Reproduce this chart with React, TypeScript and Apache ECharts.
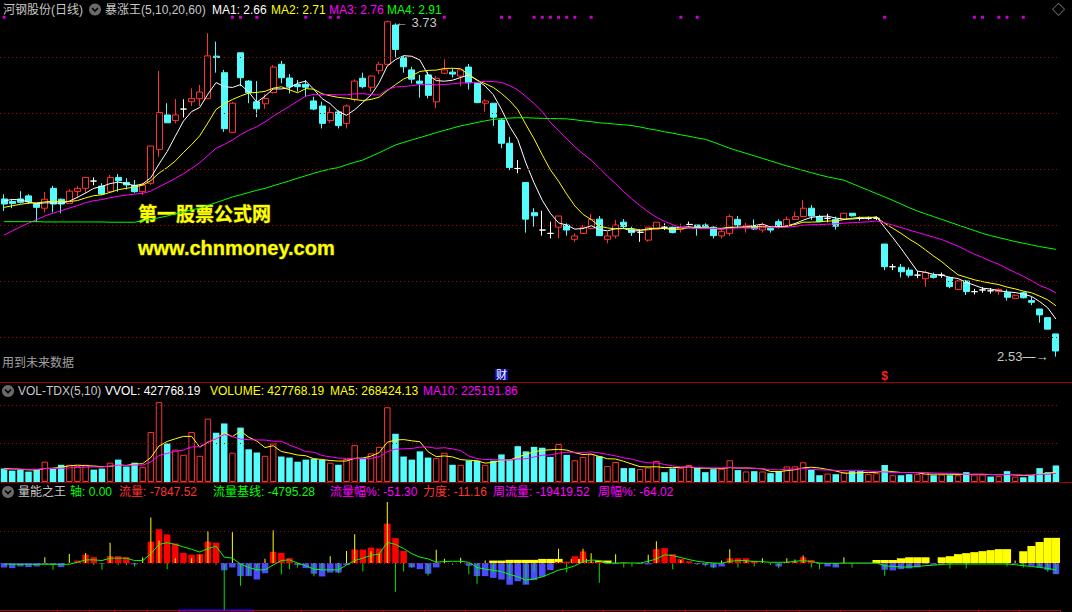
import React, { useEffect, useRef } from "react";
import * as echarts from "echarts";

const W = 1072;
const H = 612;

// [open, close, low, high]
const ohlc: number[][] = [
  [3.093, 3.075, 3.05, 3.11], [3.084, 3.077, 3.06, 3.093], [3.093, 3.081, 3.077, 3.121], [3.104, 3.083, 3.075, 3.11], [3.075, 3.063, 3.01, 3.078],
  [3.06, 3.092, 3.045, 3.118], [3.131, 3.075, 3.045, 3.14], [3.092, 3.075, 3.042, 3.095], [3.077, 3.121, 3.077, 3.128], [3.12, 3.131, 3.095, 3.139],
  [3.131, 3.17, 3.113, 3.17], [3.157, 3.157, 3.142, 3.17], [3.139, 3.111, 3.107, 3.149], [3.119, 3.17, 3.115, 3.179], [3.17, 3.158, 3.119, 3.182],
  [3.152, 3.143, 3.127, 3.167], [3.142, 3.119, 3.115, 3.161], [3.119, 3.143, 3.107, 3.151], [3.149, 3.282, 3.143, 3.282], [3.27, 3.402, 3.244, 3.55],
  [3.393, 3.365, 3.365, 3.435], [3.373, 3.393, 3.363, 3.45], [3.414, 3.414, 3.384, 3.449], [3.44, 3.452, 3.425, 3.488], [3.451, 3.475, 3.425, 3.5],
  [3.451, 3.604, 3.451, 3.685], [3.603, 3.598, 3.544, 3.655], [3.544, 3.344, 3.333, 3.554], [3.331, 3.435, 3.33, 3.44], [3.615, 3.526, 3.496, 3.615],
  [3.514, 3.473, 3.435, 3.518], [3.44, 3.415, 3.385, 3.514], [3.433, 3.452, 3.415, 3.467], [3.473, 3.564, 3.47, 3.571], [3.574, 3.526, 3.506, 3.586],
  [3.525, 3.494, 3.47, 3.539], [3.502, 3.494, 3.476, 3.518], [3.502, 3.492, 3.458, 3.518], [3.443, 3.414, 3.41, 3.458], [3.425, 3.363, 3.345, 3.44],
  [3.373, 3.402, 3.365, 3.42], [3.404, 3.355, 3.345, 3.41], [3.363, 3.425, 3.345, 3.43], [3.449, 3.514, 3.44, 3.52], [3.524, 3.494, 3.488, 3.544],
  [3.492, 3.532, 3.476, 3.536], [3.551, 3.574, 3.539, 3.583], [3.574, 3.726, 3.57, 3.73], [3.714, 3.627, 3.599, 3.72], [3.598, 3.565, 3.544, 3.604],
  [3.554, 3.521, 3.506, 3.565], [3.514, 3.506, 3.455, 3.536], [3.536, 3.463, 3.452, 3.548], [3.44, 3.524, 3.417, 3.532], [3.542, 3.554, 3.539, 3.592],
  [3.546, 3.539, 3.527, 3.559], [3.532, 3.554, 3.496, 3.555], [3.564, 3.508, 3.484, 3.575], [3.506, 3.437, 3.437, 3.506], [3.435, 3.443, 3.405, 3.449],
  [3.435, 3.385, 3.354, 3.435], [3.375, 3.292, 3.274, 3.381], [3.292, 3.205, 3.196, 3.315], [3.202, 3.202, 3.185, 3.232], [3.152, 3.021, 2.973, 3.152],
  [3.044, 3.033, 2.994, 3.06], [2.982, 2.982, 2.962, 3.051], [2.97, 2.97, 2.952, 3.012], [2.992, 3.032, 2.952, 3.032], [3.0, 2.982, 2.962, 3.006],
  [2.949, 2.961, 2.94, 2.97], [2.97, 2.992, 2.968, 3.0], [2.988, 3.02, 2.985, 3.039], [3.021, 2.962, 2.962, 3.032], [2.949, 2.961, 2.935, 2.976],
  [2.961, 3.0, 2.952, 3.018], [3.01, 2.994, 2.988, 3.021], [2.985, 2.973, 2.961, 2.994], [2.974, 2.974, 2.94, 2.985], [2.946, 2.992, 2.94, 2.992],
  [2.985, 3.01, 2.983, 3.01], [2.992, 2.992, 2.982, 3.006], [2.992, 2.973, 2.97, 2.994], [2.985, 2.991, 2.973, 3.005], [3.002, 3.002, 2.994, 3.012],
  [3.0, 2.992, 2.962, 3.0], [3.0, 2.994, 2.992, 3.006], [2.992, 2.962, 2.952, 2.996], [2.961, 2.976, 2.952, 2.982], [2.97, 3.03, 2.961, 3.038],
  [3.02, 3.0, 2.988, 3.032], [2.99, 2.999, 2.973, 3.008], [2.997, 2.986, 2.982, 3.02], [2.982, 3.0, 2.973, 3.008], [2.988, 2.982, 2.973, 2.994],
  [3.012, 2.994, 2.988, 3.02], [2.997, 3.02, 2.994, 3.03], [3.02, 3.03, 3.018, 3.048], [3.03, 3.06, 3.027, 3.089], [3.06, 3.032, 3.018, 3.071],
  [3.03, 3.012, 3.01, 3.036], [3.024, 3.024, 3.01, 3.04], [3.02, 2.996, 2.984, 3.03], [3.02, 3.042, 3.018, 3.043], [3.042, 3.033, 3.03, 3.042],
  [3.024, 3.024, 3.016, 3.03], [3.024, 3.024, 3.018, 3.03], [3.024, 3.024, 3.018, 3.03], [2.932, 2.851, 2.839, 2.932], [2.851, 2.851, 2.839, 2.861],
  [2.849, 2.833, 2.813, 2.861], [2.839, 2.821, 2.812, 2.849], [2.821, 2.821, 2.81, 2.836], [2.808, 2.83, 2.78, 2.837], [2.821, 2.813, 2.809, 2.83],
  [2.821, 2.821, 2.812, 2.83], [2.812, 2.78, 2.774, 2.816], [2.77, 2.8, 2.768, 2.804], [2.8, 2.762, 2.75, 2.804], [2.762, 2.762, 2.752, 2.772],
  [2.768, 2.768, 2.758, 2.778], [2.765, 2.765, 2.755, 2.775], [2.762, 2.77, 2.75, 2.774], [2.758, 2.742, 2.73, 2.77], [2.738, 2.749, 2.735, 2.752],
  [2.758, 2.74, 2.738, 2.762], [2.73, 2.724, 2.714, 2.744], [2.7, 2.679, 2.651, 2.7], [2.669, 2.628, 2.628, 2.669], [2.611, 2.55, 2.53, 2.611],
];
const N = ohlc.length;
const categories = ohlc.map((_, i) => String(i + 1));

// closes before the first visible day (estimated so that the MA curves start where drawn)
const prevCloses = [2.78, 2.79, 2.81, 2.82, 2.83, 2.88, 2.9, 2.93, 2.95, 2.96, 3.02, 3.03, 3.04, 3.05, 3.06, 3.05, 3.09, 3.12, 3.095];

// MA4 (60-day)
const ma60 = [
  3.012, 3.012, 3.012, 3.012, 3.012, 3.011, 3.011, 3.011, 3.011, 3.011, 3.011, 3.011, 3.011, 3.01, 3.01, 3.01, 3.01, 3.015, 3.02, 3.026,
  3.032, 3.04, 3.047, 3.054, 3.06, 3.07, 3.08, 3.09, 3.1, 3.108, 3.116, 3.124, 3.131, 3.14, 3.149, 3.158, 3.167, 3.176, 3.185, 3.193,
  3.2, 3.205, 3.215, 3.224, 3.232, 3.245, 3.258, 3.272, 3.286, 3.295, 3.304, 3.312, 3.321, 3.33, 3.338, 3.346, 3.354, 3.36, 3.366, 3.372,
  3.377, 3.38, 3.382, 3.383, 3.383, 3.382, 3.381, 3.38, 3.38, 3.379, 3.376, 3.372, 3.369, 3.365, 3.363, 3.36, 3.358, 3.355, 3.35, 3.344,
  3.339, 3.333, 3.328, 3.322, 3.317, 3.311, 3.306, 3.296, 3.285, 3.274, 3.265, 3.256, 3.247, 3.238, 3.229, 3.22, 3.211, 3.203, 3.195, 3.187,
  3.179, 3.172, 3.166, 3.16, 3.148, 3.136, 3.124, 3.112, 3.1, 3.088, 3.075, 3.062, 3.05, 3.04, 3.03, 3.02, 3.01, 3.0, 2.99, 2.98,
  2.97, 2.962, 2.955, 2.948, 2.941, 2.935, 2.929, 2.923, 2.918, 2.913,
];

// volume (shares)
const volumes = [
  348000, 294000, 330000, 268000, 321000, 526000, 348000, 446000, 446000, 419000,
  446000, 321000, 348000, 500000, 580000, 401000, 500000, 393000, 1293000, 2070000,
  999000, 839000, 705000, 1293000, 678000, 1641000, 1276000, 1517000, 758000, 1409000,
  847000, 767000, 678000, 999000, 660000, 633000, 526000, 580000, 607000, 571000,
  500000, 446000, 598000, 955000, 607000, 740000, 910000, 1936000, 1249000, 660000,
  580000, 794000, 633000, 616000, 758000, 446000, 446000, 553000, 553000, 446000,
  553000, 714000, 580000, 928000, 794000, 910000, 888000, 651000, 985000, 703000,
  563000, 651000, 721000, 668000, 413000, 519000, 360000, 360000, 334000, 378000,
  545000, 255000, 352000, 369000, 440000, 369000, 255000, 334000, 343000, 563000,
  308000, 273000, 281000, 273000, 229000, 281000, 404000, 404000, 510000, 316000,
  176000, 220000, 202000, 246000, 281000, 281000, 211000, 229000, 440000, 176000,
  176000, 202000, 202000, 255000, 176000, 193000, 176000, 176000, 255000, 193000,
  193000, 141000, 150000, 281000, 141000, 123000, 176000, 360000, 255000, 427768.19,
];
const prevVolumes = [300000, 320000, 310000, 330000, 300000, 360000, 380000, 350000, 330000];

// 量能之王 panel
const flow = [
  -3150, -3600, -2400, -2900, -2400, -700, -1000, -2900, 0, 1700,
  5800, 4100, -500, 4800, 4800, 4100, -1000, 0, 14900, 23600,
  20000, 13700, 7000, 5800, 6300, 14900, 14200, -5100, -3100, -9200,
  -9200, -11600, -7200, 7700, 7000, 3400, -1400, -3600, -7500, -9400,
  -6700, -6700, -1400, 9400, 9400, 10800, 10100, 27500, 17400, 8400,
  -3100, -4300, -7500, -3100, 0, 0, 0, -1900, -9200, -9200,
  -10400, -11600, -15200, -12800, -15200, -12000, -9700, -5000, 800, 1000,
  4700, 8100, 1000, 800, -800, -800, 600, 0, -700, -1000,
  9700, 10400, 6200, 2850, 1200, -700, -1400, -3100, -2400, 3300,
  3300, 3300, 1700, 0, 0, -2400, 800, 800, 4000, 2100,
  -700, -2400, -3100, -500, -500, -500, -500, -500, -4750, -5200,
  -4300, -3800, -3100, -700, -1200, -700, -500, -300, -500, -300,
  -300, -300, -300, -500, -500, -1000, -1900, -3100, -5000, -7847.52,
];
const flowBase = [
  -700, -900, -900, -900, -900, -900, -900, -900, -900, 500,
  2200, 2200, 1700, 3400, 3400, 3400, 1700, 1700, 6500, 13000,
  14200, 13000, 11300, 9600, 7700, 10100, 11800, 4100, 3400, -700,
  -3100, -4800, -4800, -1400, 1700, 2200, 0, -1900, -4300, -4800,
  -4800, -4800, -1400, 1700, 3400, 5300, 6300, 14500, 13000, 10100,
  6500, 4100, 2900, 500, 1000, 1200, 1200, 500, -3100, -4300,
  -5100, -6000, -8000, -9600, -12000, -11100, -9700, -7400, -5000, -3800,
  -1900, 950, 2100, 1700, 0, 0, 0, 0, 0, 1200,
  2850, 5700, 5200, 3800, 2400, 1200, 500, 0, -200, 1200,
  1700, 1700, 950, 950, 500, 500, 500, 1200, 1700, 950,
  0, -200, -200, 0, 0, 0, 0, 0, -1900, -2400,
  -2800, -2800, -2400, -1900, -1500, -1000, -700, -700, -700, -700,
  -700, -700, -700, -700, -1200, -1900, -2400, -3100, -3800, -4795.28,
];
const force = [
  0, 0, 0, 0, 0, 4100, -4800, 0, 6300, 0,
  7000, -1400, -4800, 14200, -1400, -1400, -2400, 4100, 31800, 15700,
  -4300, 3400, 0, 3400, 5800, 22200, -1400, -33700, 21500, -15900,
  -8700, -5500, 2900, 22900, -8000, -4300, -3100, 0, -9200, -5500,
  4800, -7200, 8400, 20200, -6000, 8200, 6500, 42700, -20200, -6000,
  -3100, 0, -8700, 9200, 2900, -1400, 3600, -8000, -14500, 1700,
  -6700, 0, -11600, 0, -14500, -6700, 0, 0, 10000, -6700,
  0, 10000, 6900, -13800, 0, 6200, -3100, -2400, 0, 5700,
  15200, 0, -4300, 2100, 0, -1400, -2400, -3600, 1700, 9700,
  -3100, 2100, -2400, 3300, -1400, -3600, 3300, 2400, 5200, -3100,
  -4300, 0, -2400, 4000, -3100, 0, 0, 0, -9000, 0,
  0, -2400, 0, 0, 0, 0, -3800, 0, -3800, 0,
  0, 0, 0, -2400, 1700, -3100, 0, -2400, -6200, -7400,
];
const weekFlow = [
  0, 0, 0, 0, 0, 0, 0, 0, 0, 0,
  0, 0, 0, 0, 0, 0, 0, 0, 0, 0,
  0, 0, 0, 0, 0, 0, 0, 0, 0, 0,
  0, 0, 0, 0, 0, 0, 0, 0, 0, 0,
  0, 0, 0, 0, 0, 0, 0, 0, 0, 0,
  0, 0, 0, 0, 0, 0, 0, 0, 0, 0,
  1700, 1700, 2200, 2200, 2200, 2200, 2850, 2850, 2850, 0,
  2850, 2850, 0, 1700, 1700, 0, 0, 0, 0, 0,
  0, 0, 0, 0, 0, 0, 0, 0, 0, 0,
  0, 0, 0, 0, 0, 0, 0, 0, 0, 0,
  0, 0, 0, 0, 0, 0, 0, 2100, 2100, 2100,
  3300, 4000, 4000, 4000, 0, 4000, 4750, 6200, 6900, 7600,
  8300, 9000, 9700, 9700, 0, 8300, 11900, 14700, 17600, 17600,
];

const signalIdx = [0, 28, 29, 31, 37, 40, 41, 54, 61, 62, 65, 66, 67, 68, 69, 70, 72, 83, 85, 108, 119, 120, 122, 123, 125];
const weekTicks = [7, 11, 14, 18, 22, 31, 37, 42, 47, 52, 57, 62, 69, 74, 79, 84, 89, 94, 98, 103, 108, 114, 120, 125];
const priceGridLines = [2.6, 2.8, 3.0, 3.2, 3.4, 3.6];
const volGridLines = [1000000, 2000000];
const flowGridLines = [0, 21900];
const highIdx = 47;
const lowIdx = 129;
const finIdx = 61;
const divIdx = 108;

const closes = ohlc.map((d) => d[1]);
function movingAvg(vals: number[], prev: number[], n: number) {
  const all = prev.concat(vals);
  return vals.map((_, i) => {
    const j = i + prev.length;
    let s = 0;
    for (let k = j - n + 1; k <= j; k++) s += all[k];
    return +(s / n).toFixed(4);
  });
}

const RED = "#FF3232";
const CYAN = "#54FCFC";
const FONT = '"Liberation Sans", "Noto Sans CJK SC", sans-serif';

export default function App() {
  const ref = useRef<HTMLDivElement>(null);
  useEffect(() => {
    document.body.style.margin = "0";
    document.body.style.background = "#000";
    const chart = echarts.init(ref.current!, null, { renderer: "svg" });

    const ma5 = movingAvg(closes, prevCloses, 5);
    const ma10 = movingAvg(closes, prevCloses, 10);
    const ma20 = movingAvg(closes, prevCloses, 20);
    const vma5 = movingAvg(volumes, prevVolumes, 5);
    const vma10 = movingAvg(volumes, prevVolumes, 10);

    const candleData = ohlc.map((d) =>
      d[0] === d[1]
        ? { value: d, itemStyle: { color: "#FFFFFF", color0: "#FFFFFF", borderColor: "#FFFFFF", borderColor0: "#FFFFFF" } }
        : d
    );
    const isUp = (i: number) => {
      const [o, c] = ohlc[i];
      if (c !== o) return c > o;
      return i === 0 ? true : c >= ohlc[i - 1][1];
    };
    const volData = volumes.map((v, i) =>
      isUp(i)
        ? { value: v, itemStyle: { color: "#000000", borderColor: RED, borderWidth: 1 } }
        : { value: v, itemStyle: { color: CYAN } }
    );
    const flowData = flow.map((v) => ({ value: v, itemStyle: { color: v >= 0 ? "#FF0000" : "#4B4BFF" } }));
    const forceData = force.map((v) => ({ value: v, itemStyle: { color: v >= 0 ? "#FFFF00" : "#00E000" } }));

    const gridLine = (vals: number[]) => ({
      silent: true,
      symbol: ["none", "none"],
      label: { show: false },
      emphasis: { disabled: true },
      lineStyle: { color: "#B00000", type: [1, 3], width: 1, opacity: 1 },
      data: vals.map((v) => ({ yAxis: v })),
    });
    const hiddenLine = (xi: number, yi: number, data: number[], vals: number[]) => ({
      type: "line",
      xAxisIndex: xi,
      yAxisIndex: yi,
      data,
      z: 1,
      symbol: "none",
      lineStyle: { opacity: 0 },
      markLine: gridLine(vals),
    });

    const txt = (x: number, y: number, text: string, fill: string, size = 12) => ({
      type: "text",
      x,
      y,
      silent: true,
      style: { text, fill, font: `${size}px ${FONT}`, verticalAlign: "middle" },
    });
    const icon = (cx: number, cy: number) => ({
      type: "group",
      silent: true,
      children: [
        { type: "circle", shape: { cx, cy, r: 6 }, style: { fill: "#6A6A6A" } },
        { type: "polyline", shape: { points: [[cx - 3, cy - 1.5], [cx, cy + 1.5], [cx + 3, cy - 1.5]] }, style: { stroke: "#000", lineWidth: 1.6, fill: "none" } },
      ],
    });

    const left = 0;
    const width = 1060;

    const option: any = {
      animation: false,
      backgroundColor: "#000000",
      grid: [
        { left, width, top: 0, height: 382 },
        { left, width, top: 398, height: 84 },
        { left, width, top: 500, height: 110 },
      ],
      xAxis: [
        { type: "category", gridIndex: 0, data: categories, show: false, boundaryGap: true },
        { type: "category", gridIndex: 1, data: categories, show: false, boundaryGap: true },
        {
          type: "category",
          gridIndex: 2,
          data: categories,
          boundaryGap: true,
          axisLine: { show: true, onZero: false, lineStyle: { color: "#B00000", width: 1 } },
          axisTick: { show: true, length: 3, interval: (i: number) => weekTicks.includes(i), lineStyle: { color: "#B00000" } },
          axisLabel: { show: false },
          splitLine: { show: false },
        },
        { type: "category", gridIndex: 2, data: categories, show: false, boundaryGap: true },
        { type: "category", gridIndex: 2, data: categories, show: false, boundaryGap: true },
      ],
      yAxis: [
        { type: "value", gridIndex: 0, min: 2.4393, max: 3.8036, show: false, splitLine: { show: false } },
        { type: "value", gridIndex: 1, min: 0, max: 2176000, show: false, splitLine: { show: false } },
        { type: "value", gridIndex: 2, min: -32900, max: 44100, show: false, splitLine: { show: false } },
      ],
      series: [
        hiddenLine(0, 0, ma60, priceGridLines),
        {
          type: "candlestick",
          xAxisIndex: 0,
          yAxisIndex: 0,
          data: candleData,
          barWidth: 6.5,
          z: 3,
          itemStyle: { color: "#000000", color0: CYAN, borderColor: RED, borderColor0: CYAN, borderWidth: 1 },
        },
        { type: "line", xAxisIndex: 0, yAxisIndex: 0, data: ma5, symbol: "none", z: 4, lineStyle: { color: "#FFFFFF", width: 1 } },
        { type: "line", xAxisIndex: 0, yAxisIndex: 0, data: ma10, symbol: "none", z: 4, lineStyle: { color: "#FFFF00", width: 1 } },
        { type: "line", xAxisIndex: 0, yAxisIndex: 0, data: ma20, symbol: "none", z: 4, lineStyle: { color: "#FF00FF", width: 1 } },
        { type: "line", xAxisIndex: 0, yAxisIndex: 0, data: ma60, symbol: "none", z: 4, lineStyle: { color: "#00FF00", width: 1 } },
        {
          type: "scatter",
          xAxisIndex: 0,
          yAxisIndex: 0,
          data: signalIdx.map((i) => [i, 3.742]),
          symbol: "rect",
          symbolSize: 3,
          itemStyle: { color: "#FF00FF" },
          z: 5,
        },
        {
          type: "scatter",
          xAxisIndex: 0,
          yAxisIndex: 0,
          data: [],
          z: 6,
          markPoint: {
            silent: true,
            symbol: "rect",
            symbolSize: 1,
            itemStyle: { color: "rgba(0,0,0,0)" },
            data: [
              { coord: [highIdx, ohlc[highIdx][3]], label: { show: true, position: "right", offset: [2, 2], formatter: "\u2190 " + ohlc[highIdx][3].toFixed(2), color: "#C8C8C8", fontSize: 13, fontFamily: FONT } },
              { coord: [lowIdx, ohlc[lowIdx][2]], label: { show: true, position: "left", offset: [-2, 0], formatter: ohlc[lowIdx][2].toFixed(2) + "\u2014\u2192", color: "#C8C8C8", fontSize: 13, fontFamily: FONT } },
              { coord: [finIdx, 2.466], label: { show: true, position: "inside", formatter: "财", color: "#FFFFFF", backgroundColor: "#1010B0", fontSize: 11, fontFamily: FONT, padding: [0, 1] } },
              { coord: [divIdx, 2.462], label: { show: true, position: "inside", formatter: "$", color: "#FF2020", fontSize: 12, fontWeight: "bold", fontFamily: FONT } },
            ],
          },
        },
        // volume
        hiddenLine(1, 1, volumes, volGridLines),
        { type: "bar", xAxisIndex: 1, yAxisIndex: 1, data: volData, barWidth: 6.5, z: 3 },
        { type: "line", xAxisIndex: 1, yAxisIndex: 1, data: vma5, symbol: "none", z: 4, lineStyle: { color: "#FFFF00", width: 1 } },
        { type: "line", xAxisIndex: 1, yAxisIndex: 1, data: vma10, symbol: "none", z: 4, lineStyle: { color: "#FF00FF", width: 1 } },
        // 量能之王
        hiddenLine(4, 2, flowBase, flowGridLines),
        { type: "bar", xAxisIndex: 3, yAxisIndex: 2, data: weekFlow, barWidth: "100%", z: 2, itemStyle: { color: "#FFFF00" } },
        { type: "bar", xAxisIndex: 2, yAxisIndex: 2, data: flowData, barWidth: 6.5, z: 3 },
        { type: "bar", xAxisIndex: 4, yAxisIndex: 2, data: forceData, barWidth: 1, z: 4 },
        { type: "line", xAxisIndex: 4, yAxisIndex: 2, data: flowBase, symbol: "none", z: 5, lineStyle: { color: "#00FF00", width: 1 } },
      ],
      graphic: [
        { type: "line", silent: true, shape: { x1: 0, y1: 382.5, x2: W, y2: 382.5 }, style: { stroke: "#A00000", lineWidth: 1 } },
        { type: "line", silent: true, shape: { x1: 0, y1: 482.5, x2: W, y2: 482.5 }, style: { stroke: "#A00000", lineWidth: 1 } },
        { type: "rect", silent: true, shape: { x: 178, y: 609, width: 76, height: 3 }, style: { fill: "#0000B0" } },
        txt(3, 9.5, "河钢股份(日线)", "#C8C8C8"),
        icon(95, 9.5),
        txt(105, 9.5, "暴涨王(5,10,20,60)", "#C8C8C8"),
        txt(212, 9.5, "MA1: 2.66", "#FFFFFF"),
        txt(271, 9.5, "MA2: 2.71", "#FFFF00"),
        txt(329, 9.5, "MA3: 2.76", "#FF00FF"),
        txt(387, 9.5, "MA4: 2.91", "#00FF00"),
        txt(1052, 9.5, "◇", "#A0A0A0", 13),
        txt(2, 363, "用到未来数据", "#A0A0A0"),
        {
          type: "text",
          x: 138,
          y: 214,
          silent: true,
          style: { text: "第一股票公式网", fill: "#FFFF00", font: `bold 19px ${FONT}`, verticalAlign: "middle", stroke: "#5A5A00", lineWidth: 1 },
        },
        {
          type: "text",
          x: 138,
          y: 248,
          silent: true,
          style: { text: "www.chnmoney.com", fill: "#FFFF00", font: `bold 20px ${FONT}`, verticalAlign: "middle", stroke: "#5A5A00", lineWidth: 1 },
        },
        icon(8, 391),
        txt(18, 391, "VOL-TDX(5,10)", "#C8C8C8"),
        txt(105, 391, "VVOL: 427768.19", "#FFFFFF"),
        txt(210, 391, "VOLUME: 427768.19", "#FFFF00"),
        txt(330, 391, "MA5: 268424.13", "#FFFF00"),
        txt(423, 391, "MA10: 225191.86", "#FF00FF"),
        icon(8, 492),
        txt(18, 492, "量能之王", "#C8C8C8"),
        txt(70, 492, "轴: 0.00", "#00FF00"),
        txt(119, 492, "流量: -7847.52", "#FF3232"),
        txt(213, 492, "流量基线: -4795.28", "#00FF00"),
        txt(330, 492, "流量幅%: -51.30", "#FF00FF"),
        txt(423, 492, "力度: -11.16", "#FF3232"),
        txt(493, 492, "周流量: -19419.52", "#FF00FF"),
        txt(598, 492, "周幅%: -64.02", "#FF00FF"),
      ],
    };

    chart.setOption(option);
    return () => chart.dispose();
  }, []);
  return <div ref={ref} style={{ width: W, height: H, background: "#000" }} />;
}
